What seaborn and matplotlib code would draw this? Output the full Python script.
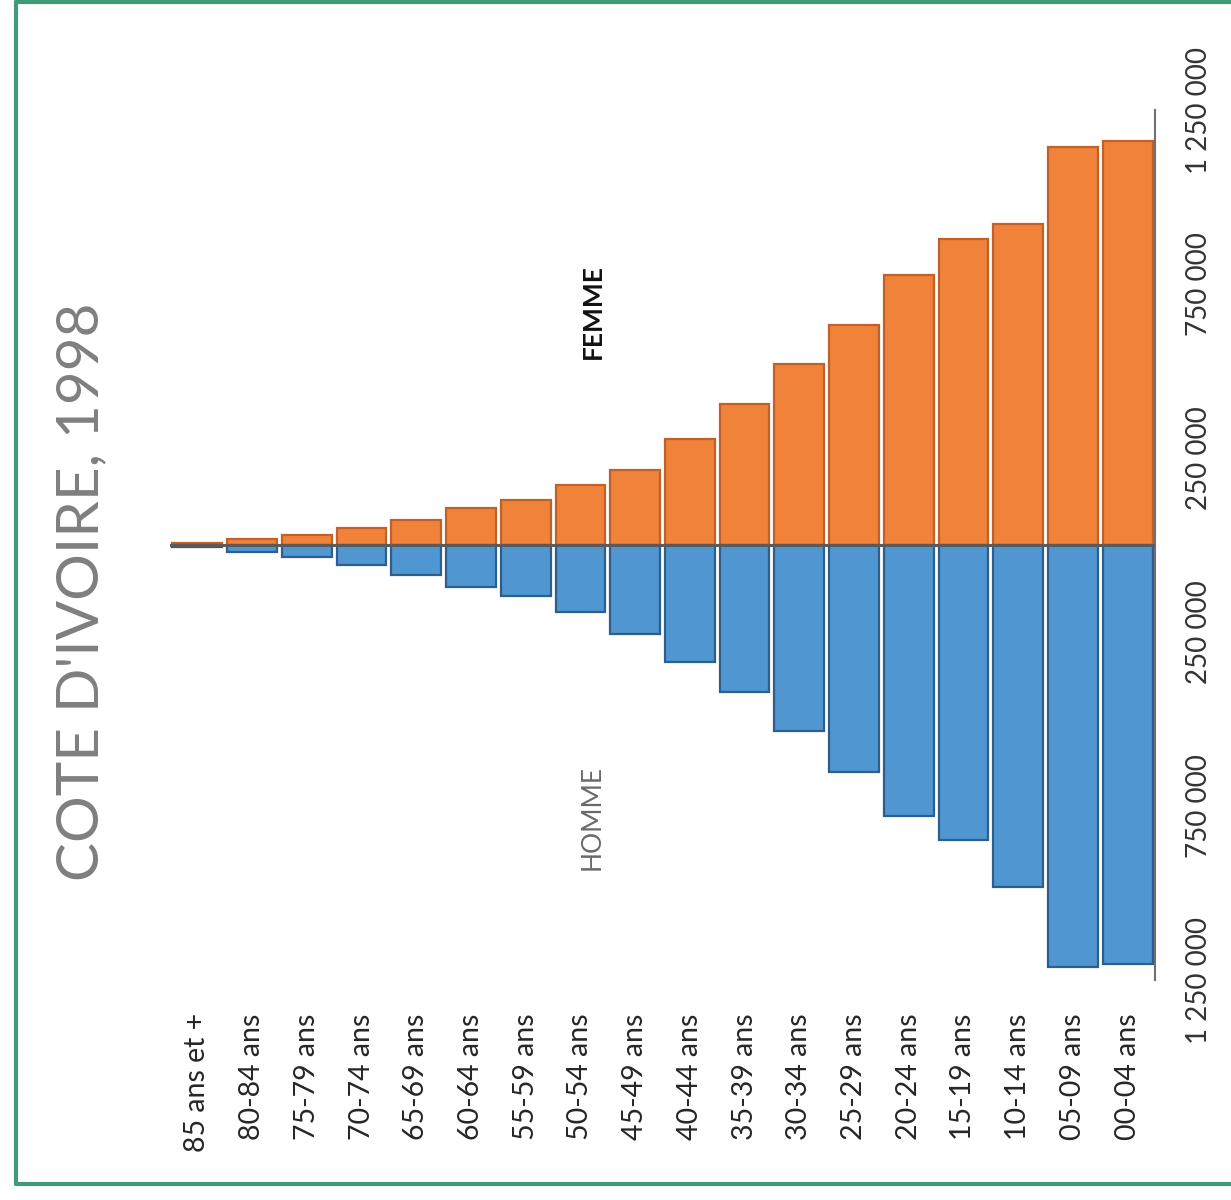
"""Pyramide des âges Côte d'Ivoire 1998, dessinée pivotée (barres verticales)."""
import matplotlib
matplotlib.use("Agg")
import matplotlib.pyplot as plt
import numpy as np
import pandas as pd
import seaborn as sns
from matplotlib.lines import Line2D

sns.set_style("white")
plt.rcParams["font.family"] = ["Lato", "DejaVu Sans"]

ages = ["85 ans et +", "80-84 ans", "75-79 ans", "70-74 ans", "65-69 ans",
        "60-64 ans", "55-59 ans", "50-54 ans", "45-49 ans", "40-44 ans",
        "35-39 ans", "30-34 ans", "25-29 ans", "20-24 ans", "15-19 ans",
        "10-14 ans", "05-09 ans", "00-04 ans"]
femme = [5000, 17000, 29000, 49000, 72000, 106000, 129000, 172000, 216000,
         305000, 405000, 520000, 632000, 776000, 879000, 922000, 1144000, 1161000]
homme = [6000, 20000, 34000, 57000, 86000, 121000, 147000, 193000, 256000,
         336000, 422000, 534000, 652000, 779000, 848000, 983000, 1213000, 1204000]
ticks = [-1250000, -750000, -250000, 250000, 750000, 1250000]

ORANGE, BLUE = "#F0823A", "#5096D0"
EDGES = {"FEMME": "#C0612A", "HOMME": "#2E5E8C"}

df = pd.concat([
    pd.DataFrame({"age": ages, "pop": femme, "sexe": "FEMME"}),
    pd.DataFrame({"age": ages, "pop": -np.array(homme), "sexe": "HOMME"}),
])

fig = plt.figure(figsize=(12.31, 12), dpi=100)
ax = fig.add_axes([170 / 1231, 1 - 980 / 1200, 985 / 1231, 870 / 1200])

sns.barplot(data=df, x="age", y="pop", hue="sexe", order=ages,
            palette={"FEMME": ORANGE, "HOMME": BLUE}, dodge=False,
            width=0.91, legend=False, ax=ax, saturation=1)
for container, sexe in zip(ax.containers, ["FEMME", "HOMME"]):
    for bar in container:
        bar.set_edgecolor(EDGES[sexe])
        bar.set_linewidth(1.6)

ax.set_xlim(-0.5, len(ages) - 0.5)
ax.set_ylim(-1250000, 1250000)
ax.axhline(0, color="#5a5a5a", lw=2.2, zorder=5)

for side in ["top", "bottom", "left"]:
    ax.spines[side].set_visible(False)
ax.spines["right"].set_color("#707070")
ax.spines["right"].set_linewidth(1.5)

ax.yaxis.tick_right()
ax.set_yticks(ticks)
ax.set_yticklabels([f"{abs(t):,}".replace(",", " ") for t in ticks],
                   rotation=90, va="center", fontsize=20, color="#333333")
ax.tick_params(axis="y", length=0, pad=22)
ax.tick_params(axis="x", length=0, pad=24)
plt.setp(ax.get_xticklabels(), rotation=90, fontsize=20.5, color="#262626")
ax.set_xlabel("")
ax.set_ylabel("")
ax.grid(False)

ax.text(7.22, 670000, "FEMME", rotation=90, ha="center", va="center",
        fontsize=19, fontweight="bold", color="#111111")
ax.text(7.22, -782000, "HOMME", rotation=90, ha="center", va="center",
        fontsize=19, color="#6a6a6a")

fig.text(82 / 1231, 1 - 592 / 1200, "COTE D'IVOIRE, 1998", rotation=90,
         ha="center", va="center", fontsize=42, color="#7f7f7f")

# cadre vert (coupé à droite)
green = "#3E9B76"
x0, ytop, ybot = 16 / 1231, 1 - 2 / 1200, 1 - 1184 / 1200
fig.add_artist(Line2D([x0, x0], [ybot, ytop], color=green, lw=3))
fig.add_artist(Line2D([x0, 1], [ytop, ytop], color=green, lw=3))
fig.add_artist(Line2D([x0, 1], [ybot, ybot], color=green, lw=3))

fig.savefig("out.png", dpi=100)
